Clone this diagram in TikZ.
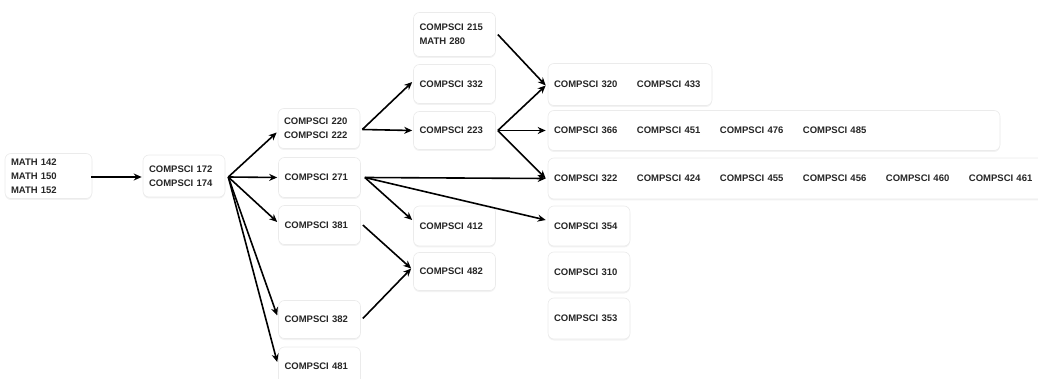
\documentclass[tikz,border=0pt]{standalone}
\usepackage{fontspec}
\setmainfont{Liberation Sans}
\usetikzlibrary{arrows.meta,calc,shadows}
\begin{document}
\begin{tikzpicture}[x=1pt,y=-1pt,
  box/.style={draw=black!8, line width=0.6pt, fill=white, rounded corners=6pt,
    general shadow={fill=black, opacity=0.05, shadow xshift=0pt, shadow yshift=-1.5pt},
    inner xsep=6pt, inner ysep=0pt, align=left, anchor=center,
    font=\fontsize{9.5}{14}\selectfont\bfseries, text=black!85},
  arr/.style={line width=1.6pt, -{Stealth[length=8pt,width=7pt]}},
]
\useasboundingbox (0,0) rectangle (1038,379);
\newcommand{\cc}[1]{\makebox[83pt][l]{#1}}
% boxes
\node[box, minimum width=87pt, minimum height=45pt, text width=75pt] (m) at (48.5,176) {MATH 142\\MATH 150\\MATH 152};
\node[box, minimum width=82pt, minimum height=42pt, text width=70pt] (c172) at (184,176) {COMPSCI 172\\COMPSCI 174};
\node[box, minimum width=82pt, minimum height=40pt, text width=70pt] (a220) at (319,128.5) {COMPSCI 220\\COMPSCI 222};
\node[box, minimum width=82pt, minimum height=40pt, text width=70pt] (a271) at (319.5,177.5) {COMPSCI 271};
\node[box, minimum width=82pt, minimum height=39pt, text width=70pt] (a381) at (319.5,225) {COMPSCI 381};
\node[box, minimum width=82pt, minimum height=38pt, text width=70pt] (a382) at (319.5,319.5) {COMPSCI 382};
\node[box, minimum width=82pt, minimum height=38pt, text width=70pt] (a481) at (319.5,366) {COMPSCI 481};
\node[box, minimum width=82pt, minimum height=44pt, text width=70pt] (b215) at (454.5,34.5) {COMPSCI 215\\MATH 280};
\node[box, minimum width=82pt, minimum height=39pt, text width=70pt] (b332) at (454.5,84) {COMPSCI 332};
\node[box, minimum width=82pt, minimum height=38pt, text width=70pt] (b223) at (454.5,130.5) {COMPSCI 223};
\node[box, minimum width=82pt, minimum height=40pt, text width=70pt] (b412) at (454.5,226) {COMPSCI 412};
\node[box, minimum width=82pt, minimum height=38pt, text width=70pt] (b482) at (454.5,271.5) {COMPSCI 482};
\node[box, minimum width=164pt, minimum height=42pt, text width=152pt] (c320) at (630,84.5) {\cc{COMPSCI 320}COMPSCI 433};
\node[box, minimum width=452pt, minimum height=40pt, text width=440pt] (c366) at (774,130.5) {\cc{COMPSCI 366}\cc{COMPSCI 451}\cc{COMPSCI 476}COMPSCI 485};
\node[box, minimum width=500pt, minimum height=41pt, text width=488pt] (c322) at (798,178.5) {\cc{COMPSCI 322}\cc{COMPSCI 424}\cc{COMPSCI 455}\cc{COMPSCI 456}\cc{COMPSCI 460}COMPSCI 461};
\node[box, minimum width=82pt, minimum height=40pt, text width=70pt] (c354) at (589,226) {COMPSCI 354};
\node[box, minimum width=82pt, minimum height=40pt, text width=70pt] (c310) at (589,272) {COMPSCI 310};
\node[box, minimum width=82pt, minimum height=41pt, text width=70pt] (c353) at (589,318.5) {COMPSCI 353};
% arrows
\draw[arr] ($(m.east)+(-1,1)$) -- ($(c172.west)+(-1,1)$);
\draw[arr] ($(c172.east)+(3,1)$) -- ($(a220.west)+(-1,4)$);
\draw[arr] ($(c172.east)+(3,1)$) -- ($(a271.west)+(-1,0)$);
\draw[arr] ($(c172.east)+(3,1)$) -- ($(a381.west)+(-1,-3)$);
\draw[arr] ($(c172.east)+(3,1)$) -- ($(a382.west)+(-1,-4)$);
\draw[arr] ($(c172.east)+(3,1)$) -- ($(a481.west)+(-1,-4)$);
\draw[arr] ($(a220.east)+(2,1)$) -- ($(b332.west)+(-1,-2)$);
\draw[arr] ($(a220.east)+(2,1)$) -- ($(b223.west)+(-1,0)$);
\draw[arr] ($(a271.east)+(4,0)$) -- ($(b412.west)+(-1,-6)$);
\draw[arr] ($(a271.east)+(4,0)$) -- ($(c322.west)+(-2,0)$);
\draw[arr] ($(a271.east)+(4,0)$) -- ($(c354.west)+(-2,-6)$);
\draw[arr] ($(a381.east)+(2,0)$) -- ($(b482.west)+(-2,-3)$);
\draw[arr] ($(a382.east)+(2,-1)$) -- ($(b482.west)+(-2,-3)$);
\draw[arr] ($(b215.east)+(2,0)$) -- ($(c320.west)+(-2,1)$);
\draw[arr] ($(b223.east)+(2,0)$) -- ($(c320.west)+(-2,1)$);
\draw[arr] ($(b223.east)+(2,0)$) -- ($(c366.west)+(-2,0)$);
\draw[arr] ($(b223.east)+(2,0)$) -- ($(c322.west)+(-2,0)$);
\end{tikzpicture}
\end{document}
